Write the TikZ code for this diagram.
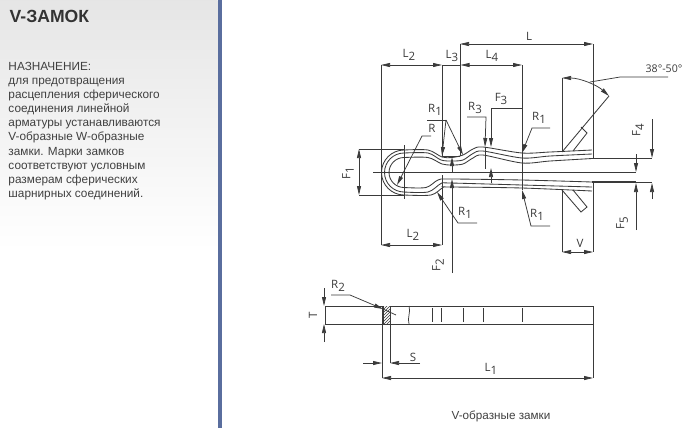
\documentclass[tikz,border=0pt]{standalone}
\usepackage{fontspec}
\setmainfont{Liberation Sans}
\newfontfamily\dimfont{Open Sans}
\usetikzlibrary{arrows.meta,patterns}
\definecolor{inkline}{HTML}{3A3A3A}
\definecolor{panelbar}{HTML}{5A6E9E}
\newcommand{\dimsub}[2]{#1\raisebox{-.55ex}{#2}}
\tikzset{
  >={Triangle[length=9pt,width=4pt]},
  part/.style={draw=inkline,line width=.85pt},
  dimline/.style={draw=inkline,line width=.75pt},
  dimlabel/.style={font=\dimfont\fontsize{11.5}{12}\selectfont,text=inkline,inner sep=0pt},
  paneltext/.style={font=\fontsize{11.8}{14.1}\selectfont,text=black!75,inner sep=0pt,anchor=north west,align=left}
}
\begin{document}
\begin{tikzpicture}[x=1pt,y=-1pt]
\useasboundingbox (0,0) rectangle (692,432);
% left panel
\shade[top color=black!10,bottom color=white] (0,0) rectangle (217.5,250);
\fill[panelbar] (217.5,0) rectangle (221.5,428);
\node[font=\bfseries\fontsize{17.6}{18}\selectfont,text=black!80,inner sep=0pt,anchor=west] (title) at (9.5,16) {V-ЗАМОК};
\node[paneltext] (purpose) at (8.3,62) {НАЗНАЧЕНИЕ:\\для предотвращения\\расцепления сферического\\соединения линейной\\арматуры устанавливаются\\V-образные W-образные\\замки. Марки замков\\соответствуют условным\\размерам сферических\\шарнирных соединений.};

% pin, round end
\foreach \r in {22.5,19.5,15}
\draw[part] (404,172.5-\r) .. controls (404-.55*\r,172.5-\r) and (404-\r,172.5-.55*\r) .. (404-\r,172.5) .. controls (404-\r,172.5+.55*\r) and (404-.55*\r,172.5+\r) .. (404,172.5+\r);

% upper legs
\draw[part] plot[smooth,tension=.5] coordinates {(404,150) (428,150) (442,157) (452,157.5) (463,155) (473,149) (483,147) (522,153) (550,152) (592,150)};
\draw[part] plot[smooth,tension=.5] coordinates {(404,153) (428,153) (441,160) (452,161) (463,160) (473,153.5) (483,151) (522,158) (550,156) (592,154)};
\draw[part] plot[smooth,tension=.5] coordinates {(404,157.5) (428,157.5) (442,164) (452,165) (463,164) (473,158) (483,155) (522,163) (550,161) (592,158.5)};
\draw[part] (592,158.5)--(652,158.5);
\draw[part] (373,172)--(636,172);

% lower legs
\draw[part] plot[smooth,tension=.5] coordinates {(404,187.5) (426,187.5) (438,180) (450,179) (522,180) (592,182)};
\draw[part] plot[smooth,tension=.5] coordinates {(404,192) (428,192) (441,183.5) (450,183) (522,185) (592,187)};
\draw[part] plot[smooth,tension=.5] coordinates {(404,195) (431,195) (443,187.5) (450,187) (522,188) (592,191)};
\draw[part] (592,182)--(652,182);
\draw[part,line width=1.1pt] (592,182)--(636,182);

% barbs
\draw[part] (562,78)--(562,152);
\draw[part] (562,190)--(562,252);
\draw[part] (609,96)--(562,152);
\draw[part] (581,127)--(587,133)--(573,151);
\draw[part] (562,190)--(581,212)--(587,207)--(573,190);
\draw[part] (593,44)--(593,158);
\draw[part] (593,182)--(593,252);
\draw[dimline,<->] (562,78) .. controls (580,78) and (597,85) .. (609,96);
\draw[dimline] (590,82)--(620,77)--(668,77);
\node[dimlabel,font=\dimfont\fontsize{10.6}{12}\selectfont] (angle) at (664,69) {38°-50°};

% top dimensions
\draw[dimline] (381,65)--(381,245);
\draw[dimline] (442,65)--(442,157);
\draw[dimline] (442,175)--(442,245);
\draw[dimline] (460,44)--(460,156);
\draw[dimline] (442,156)--(460,156);
\draw[dimline] (522,65)--(522,190);
\draw[dimline,<->] (381,65)--(442,65);
\draw[dimline,<->] (460.5,65)--(522,65);
\draw[dimline] (442,65)--(461,65);
\draw[dimline,<->] (460,44)--(593,44);
\draw[dimline,<->] (381,245)--(442,245);
\draw[dimline,<->] (562,252)--(593,252);
\foreach \x/\y/\t/\nm in {409/55/2/ltwo,452/56/3/lthree,492/56/4/lfour,413/235/2/lbot}
\node[dimlabel] (\nm) at (\x,\y) {\dimsub{L}{\t}};
\node[dimlabel] (ell) at (529,36) {L};
\node[dimlabel] (vee) at (580,243) {V};

% radius leaders
\draw[dimline] (427,120)--(446,120);
\draw[dimline,->] (446,120)--(442,156);
\draw[dimline,->] (446,120)--(463,155);
\draw[dimline,->] (431,136)--(422,136)--(397,185);
\draw[dimline,->] (467,117)--(486,117)--(485,147);
\draw[dimline] (485,147)--(485,169);
\draw[dimline,->] (522,108)--(491,108)--(491,147);
\draw[dimline,->] (491,183)--(491,168);
\draw[dimline,->] (550,128)--(532,128)--(522,153);
\draw[dimline,->] (550,226)--(531,226)--(522,190);
\draw[dimline,->] (477,223)--(458,223)--(437,192);
\draw[dimline] (404,145)--(404,199);
\foreach \x/\y/\t/\nm in {435/110/1/rone,539/118/1/rtwo,465/213/1/rthree,537/215/1/rfour}
\node[dimlabel] (\nm) at (\x,\y) {\dimsub{R}{\t}};
\node[dimlabel] (rad) at (432,128) {R};
\node[dimlabel] (rsmall) at (475,108) {\dimsub{R}{3}};
\node[dimlabel] (fthree) at (501,99) {\dimsub{F}{3}};

% heights
\draw[dimline] (359,149)--(404,149);
\draw[dimline] (359,195)--(404,195);
\draw[dimline,<->] (359,149)--(359,195);
\node[dimlabel,rotate=90] (fone) at (348,173) {\dimsub{F}{1}};
\draw[dimline,->] (452,172)--(452,157);
\draw[dimline,->] (452,273)--(452,179);
\node[dimlabel,rotate=90] (ftwo) at (438,265) {\dimsub{F}{2}};
\draw[dimline,->] (652,119)--(652,158);
\draw[dimline,->] (652,199)--(652,183);
\node[dimlabel,rotate=90] (ffour) at (638,130) {\dimsub{F}{4}};
\draw[dimline,->] (636,154)--(636,172);
\draw[dimline,->] (636,230)--(636,183);
\node[dimlabel,rotate=90] (ffive) at (622,223) {\dimsub{F}{5}};

% side view
\draw[part] (325,306) rectangle (593,324);
\fill[white] (383,306.4) rectangle (390,323.6);
\fill[pattern=north east lines,pattern color=inkline] (383,306) rectangle (390,324);
\draw[part] (383,306)--(383,324);
\draw[part] (390,306)--(390,324);
\draw[dimline] (409,306) .. controls (411,312) and (407,318) .. (409,324);
\foreach \x in {432,441,463,483,522}
\draw[dimline] (\x,308)--(\x,322);

\draw[dimline,->] (324,288)--(324,306);
\draw[dimline,->] (324,342)--(324,324);
\node[dimlabel,rotate=90] (thick) at (313,315) {T};
\draw[dimline,->] (331,295)--(350,295)--(383,309);
\draw[dimline] (383,309)--(396,315);
\node[dimlabel] (rtwosmall) at (338,286) {\dimsub{R}{2}};
\draw[dimline] (382,306)--(382,378);
\draw[dimline] (390,306)--(390,363);
\draw[dimline,->] (363,363)--(382,363);
\draw[dimline,->] (420,363)--(390,363);
\node[dimlabel] (ess) at (413,357) {S};
\draw[dimline,<->] (382,378)--(593,378);
\draw[dimline] (593,324)--(593,378);
\node[dimlabel] (lone) at (491,369) {\dimsub{L}{1}};

\node[font=\fontsize{11.7}{12}\selectfont,text=black!75,inner sep=0pt] (caption) at (501,416) {V-образные замки};
\end{tikzpicture}
\end{document}
